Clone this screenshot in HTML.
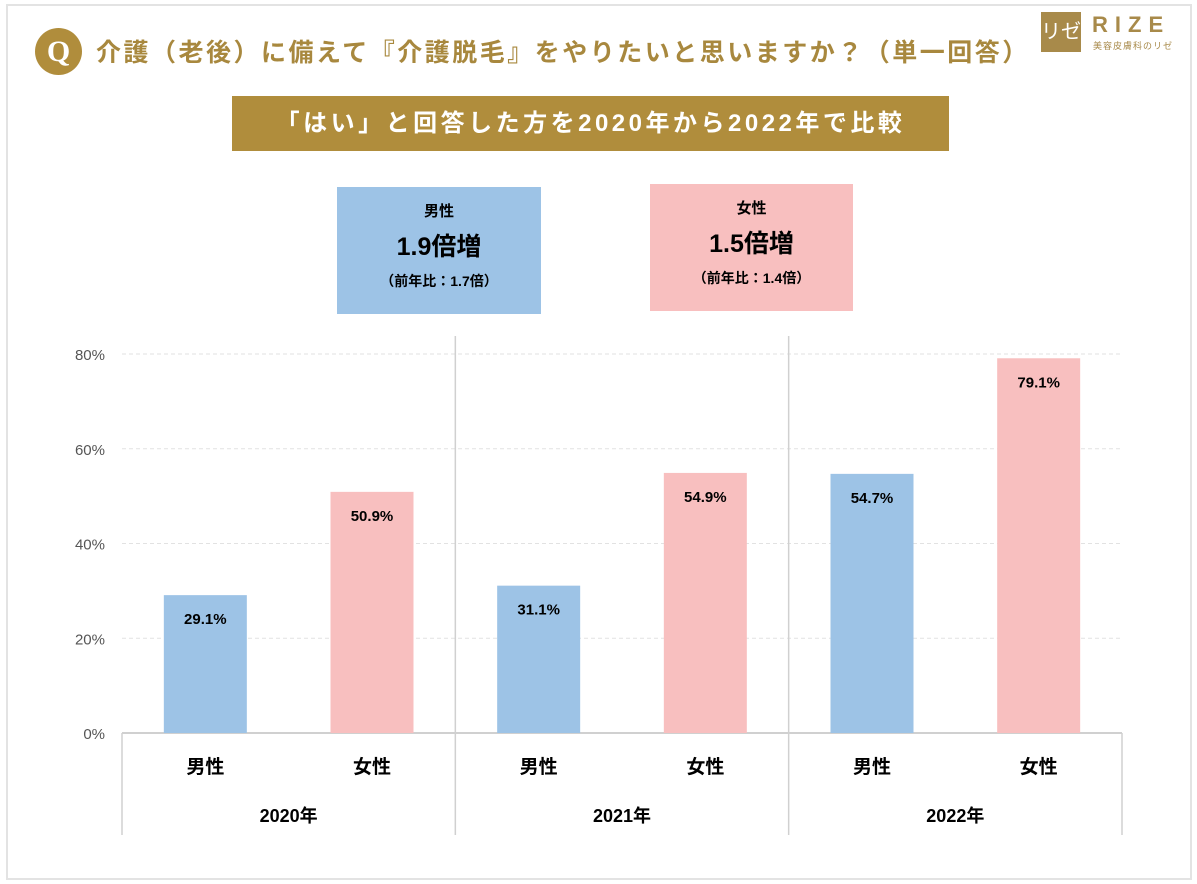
<!DOCTYPE html>
<html><head><meta charset="utf-8"><style>
body{margin:0;width:1197px;height:884px;background:#fff;position:relative;overflow:hidden;font-family:"Liberation Sans","Noto Sans CJK JP",sans-serif}
.a{position:absolute}
</style></head><body>
<div class="a" style="left:6px;top:4px;width:1182px;height:872px;border:2px solid #e3e3e3"></div>
<div class="a" style="left:35px;top:28px;width:47px;height:47px;border-radius:50%;background:#b08d3c;color:#fff;font:bold 30px 'Liberation Serif',serif;text-align:center;line-height:47px">Q</div>
<div class="a" style="left:96px;top:33px;font-weight:bold;font-size:25px;color:#a8883e;white-space:nowrap;letter-spacing:2.5px">介護（老後）に備えて『介護脱毛』をやりたいと思いますか？（単一回答）</div>
<div class="a" style="left:1041px;top:12px;width:40px;height:40px;background:#a88a4a;color:#fff;font-size:20px;text-align:center;line-height:40px">リゼ</div>
<div class="a" style="left:1092px;top:12px;color:#a88a4a;font-weight:bold;font-size:22px;letter-spacing:7px">RIZE</div>
<div class="a" style="left:1093px;top:39px;color:#a88a4a;font-size:9px;letter-spacing:1px">美容皮膚科のリゼ</div>
<div class="a" style="left:232px;top:96px;width:717px;height:55px;background:#b08d3c;color:#fff;font-weight:bold;font-size:24px;text-align:center;line-height:55px;letter-spacing:3.5px">「はい」と回答した方を2020年から2022年で比較</div>
<div class="a" style="left:337px;top:187px;width:204px;height:127px;background:#9dc3e6;text-align:center">
<div style="font-weight:bold;font-size:15px;margin-top:13px">男性</div>
<div style="font-weight:bold;font-size:25px;margin-top:6px">1.9倍増</div>
<div style="font-weight:bold;font-size:14px;margin-top:8px">（前年比：1.7倍）</div></div>
<div class="a" style="left:650px;top:184px;width:203px;height:127px;background:#f8bfbf;text-align:center">
<div style="font-weight:bold;font-size:15px;margin-top:13px">女性</div>
<div style="font-weight:bold;font-size:25px;margin-top:6px">1.5倍増</div>
<div style="font-weight:bold;font-size:14px;margin-top:8px">（前年比：1.4倍）</div></div>
<svg class="a" style="left:0;top:0" width="1197" height="884">
<g id="g"></g></svg>
<script>
const years=["2020年","2021年","2022年"];
const genders=["男性","女性"];
const maleVals=[29.1,31.1,54.7];
const femaleVals=[50.9,54.9,79.1];
const ticks=[0,20,40,60,80];
const colors=["#9dc3e6","#f8bfbf"];
const NS="http://www.w3.org/2000/svg",g=document.getElementById("g");
const x0=122,x1=1122,y0=733,pxPer=(733-354)/80;
const gw=(x1-x0)/years.length;
const y=v=>y0-v*pxPer;
function mk(t,a,txt){const e=document.createElementNS(NS,t);for(const k in a)e.setAttribute(k,a[k]);if(txt!==undefined)e.textContent=txt;g.appendChild(e);return e;}
ticks.forEach(t=>{
 if(t>0){const l=mk("line",{x1:x0,x2:x1,y1:y(t),y2:y(t),stroke:"#e2e2e2","stroke-dasharray":"4,3"});
 
 }
 const tx=mk("text",{x:105,y:y(t)+6,"text-anchor":"end","font-size":"15",fill:"#555"},t+"%");
 
 
});
mk("line",{x1:x0,x2:x1,y1:y0,y2:y0,stroke:"#d0d0d0","stroke-width":2});
for(let i=0;i<=years.length;i++){
 const xx=x0+i*gw;const top=(i==0||i==years.length)?y0:336;
 const l=mk("line",{x1:xx,x2:xx,y1:top,y2:835,stroke:"#d0d0d0","stroke-width":1.5});
 
 
}
years.forEach((yr,i)=>{
 [maleVals[i],femaleVals[i]].forEach((v,j)=>{
  const cx=x0+i*gw+gw*(j==0?0.25:0.75);
  const r=mk("rect",{x:cx-41.5,y:y(v),width:83,height:y0-y(v),fill:colors[j]});
  
  
  const t=mk("text",{x:cx,y:y(v)+29,"text-anchor":"middle","font-size":"15","font-weight":"bold"},v.toFixed(1)+"%");
  
  
  const c=mk("text",{x:cx,y:773,"text-anchor":"middle","font-size":"19","font-weight":"bold"},genders[j]);
  
  
 });
 const yl=mk("text",{x:x0+i*gw+gw/2,y:822,"text-anchor":"middle","font-size":"18","font-weight":"bold"},yr);
 
 
});
</script>
</body></html>
